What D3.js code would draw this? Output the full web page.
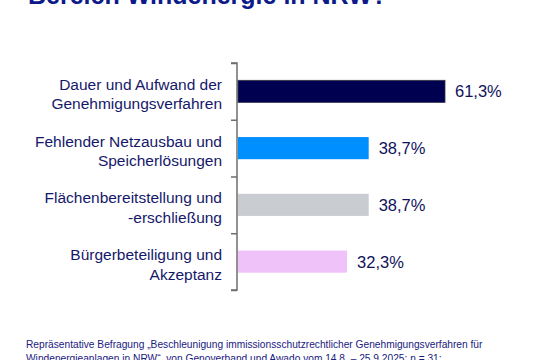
<!DOCTYPE html>
<html><head><meta charset="utf-8">
<script src="https://cdn.jsdelivr.net/npm/d3@7"></script>
<style>html,body{margin:0;padding:0;background:#fff;}svg{display:block;}</style>
</head><body>
<svg id="c" width="540" height="360"></svg>
<script>
const categories = [
  ["Dauer und Aufwand der", "Genehmigungsverfahren"],
  ["Fehlender Netzausbau und", "Speicherlösungen"],
  ["Flächenbereitstellung und", "-erschließung"],
  ["Bürgerbeteiligung und", "Akzeptanz"]
];
const values = [61.3, 38.7, 38.7, 32.3];
const valueLabels = ["61,3%", "38,7%", "38,7%", "32,3%"];
const colors = ["#000050", "#008fff", "#c9cdd1", "#f0c2fa"];
const title = "Bereich Windenergie in NRW?";
const footnote = [
  "Repräsentative Befragung „Beschleunigung immissionsschutzrechtlicher Genehmigungsverfahren für",
  "Windenergieanlagen in NRW“, von Genoverband und Awado vom 14.8. – 25.9.2025; n = 31;"
];

const svg = d3.select("#c");
const font = "'Liberation Sans', Arial, Helvetica, sans-serif";
const axLeft = 237, axTop = 63, axBottom = 290;

const x = d3.scaleLinear().domain([0, 100]).range([axLeft + 1, axLeft + 1 + 337.7]);
const y = d3.scaleBand().domain(d3.range(categories.length)).range([axTop, axBottom]).paddingInner(0.61).paddingOuter(0.305);

// title (partly cut off at top)
svg.append("text").attr("x", 28).attr("y", 4)
  .attr("font-family", font).attr("font-weight", "bold").attr("font-size", 25)
  .attr("fill", "#0d1a8a").text(title);

// axis
const axis = d3.axisLeft(d3.scaleLinear().domain([0, 4]).range([axTop, axBottom]))
  .ticks(4).tickSize(6).tickFormat("");
const ag = svg.append("g").attr("transform", `translate(${axLeft},0)`).call(axis);
ag.selectAll("path,line").attr("stroke", "#6e6e6e").attr("stroke-width", 1.5);
ag.select("path.domain").attr("d", `M-6,${axTop}H0V${axBottom}H-6`);

// bars
svg.selectAll("rect.bar").data(values).join("rect").attr("class", "bar")
  .attr("x", x(0)).attr("y", (d, i) => y(i))
  .attr("width", d => x(d) - x(0)).attr("height", y.bandwidth())
  .attr("fill", (d, i) => colors[i])
  .attr("stroke", (d, i) => i === 0 ? "#3a3a4a" : "none").attr("stroke-width", 0.8);

// value labels
svg.selectAll("text.val").data(values).join("text").attr("class", "val")
  .attr("x", d => x(d) + 10).attr("y", (d, i) => y(i) + y.bandwidth() / 2 + 6)
  .attr("font-family", font).attr("font-size", 16.5).attr("fill", "#10125a")
  .text((d, i) => valueLabels[i]);

// category labels
categories.forEach((lines, i) => {
  const cy = y(i) + y.bandwidth() / 2;
  const t = svg.append("text").attr("text-anchor", "end")
    .attr("font-family", font).attr("font-size", 15.5).attr("fill", "#15186a");
  lines.forEach((ln, j) => {
    t.append("tspan").attr("x", 222).attr("y", cy - 1.5 + j * 19.5).text(ln);
  });
});

// footnote
footnote.forEach((ln, j) => {
  svg.append("text").attr("x", 26).attr("y", 348 + j * 14)
    .attr("font-family", font).attr("font-size", 10.2).attr("fill", "#1a2080").text(ln);
});
</script>
</body></html>
